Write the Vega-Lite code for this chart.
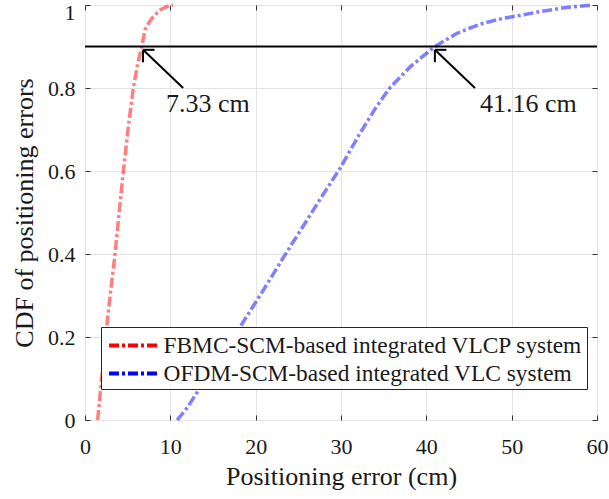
{
  "$schema": "https://vega.github.io/schema/vega-lite/v6.json",
  "width": 512,
  "height": 415,
  "autosize": {"type": "none"},
  "padding": {"left": 85, "top": 5, "right": 12, "bottom": 79},
  "background": "white",
  "config": {
    "font": "Liberation Serif",
    "view": {"stroke": "#333333", "strokeWidth": 1},
    "axis": {
      "labelFont": "Liberation Serif",
      "titleFont": "Liberation Serif",
      "labelFontSize": 22,
      "titleFontSize": 26,
      "labelColor": "#1a1a1a",
      "titleColor": "#1a1a1a",
      "titleFontWeight": "normal",
      "titleLimit": 1000,
      "labelFlush": false,
      "gridColor": "#e3e3e3",
      "gridWidth": 1,
      "domain": false,
      "tickColor": "#333333",
      "tickSize": -5
    }
  },
  "resolve": {"axis": {"x": "independent", "y": "independent"}},
  "datasets": {
    "curves": [
      {"series": "FBMC-SCM-based integrated VLCP system", "x": 1.48, "cdf": 0.0},
      {"series": "FBMC-SCM-based integrated VLCP system", "x": 2.0, "cdf": 0.11},
      {"series": "FBMC-SCM-based integrated VLCP system", "x": 2.54, "cdf": 0.225},
      {"series": "FBMC-SCM-based integrated VLCP system", "x": 3.0, "cdf": 0.31},
      {"series": "FBMC-SCM-based integrated VLCP system", "x": 3.52, "cdf": 0.4},
      {"series": "FBMC-SCM-based integrated VLCP system", "x": 4.0, "cdf": 0.5},
      {"series": "FBMC-SCM-based integrated VLCP system", "x": 4.5, "cdf": 0.6},
      {"series": "FBMC-SCM-based integrated VLCP system", "x": 5.1, "cdf": 0.71},
      {"series": "FBMC-SCM-based integrated VLCP system", "x": 5.66, "cdf": 0.8},
      {"series": "FBMC-SCM-based integrated VLCP system", "x": 6.15, "cdf": 0.855},
      {"series": "FBMC-SCM-based integrated VLCP system", "x": 6.64, "cdf": 0.9},
      {"series": "FBMC-SCM-based integrated VLCP system", "x": 7.03, "cdf": 0.94},
      {"series": "FBMC-SCM-based integrated VLCP system", "x": 7.5, "cdf": 0.958},
      {"series": "FBMC-SCM-based integrated VLCP system", "x": 8.0, "cdf": 0.972},
      {"series": "FBMC-SCM-based integrated VLCP system", "x": 8.8, "cdf": 0.988},
      {"series": "FBMC-SCM-based integrated VLCP system", "x": 9.57, "cdf": 0.996},
      {"series": "FBMC-SCM-based integrated VLCP system", "x": 10.3, "cdf": 1.0},
      {"series": "OFDM-SCM-based integrated VLC system", "x": 10.8, "cdf": 0.0},
      {"series": "OFDM-SCM-based integrated VLC system", "x": 12.0, "cdf": 0.03},
      {"series": "OFDM-SCM-based integrated VLC system", "x": 13.3, "cdf": 0.072},
      {"series": "OFDM-SCM-based integrated VLC system", "x": 15.0, "cdf": 0.125},
      {"series": "OFDM-SCM-based integrated VLC system", "x": 16.8, "cdf": 0.18},
      {"series": "OFDM-SCM-based integrated VLC system", "x": 18.5, "cdf": 0.235},
      {"series": "OFDM-SCM-based integrated VLC system", "x": 20.9, "cdf": 0.313},
      {"series": "OFDM-SCM-based integrated VLC system", "x": 23.2, "cdf": 0.39},
      {"series": "OFDM-SCM-based integrated VLC system", "x": 25.5, "cdf": 0.465},
      {"series": "OFDM-SCM-based integrated VLC system", "x": 27.8, "cdf": 0.54},
      {"series": "OFDM-SCM-based integrated VLC system", "x": 29.9, "cdf": 0.607},
      {"series": "OFDM-SCM-based integrated VLC system", "x": 32.2, "cdf": 0.69},
      {"series": "OFDM-SCM-based integrated VLC system", "x": 34.0, "cdf": 0.75},
      {"series": "OFDM-SCM-based integrated VLC system", "x": 35.7, "cdf": 0.8},
      {"series": "OFDM-SCM-based integrated VLC system", "x": 38.1, "cdf": 0.851},
      {"series": "OFDM-SCM-based integrated VLC system", "x": 41.0, "cdf": 0.9},
      {"series": "OFDM-SCM-based integrated VLC system", "x": 43.6, "cdf": 0.932},
      {"series": "OFDM-SCM-based integrated VLC system", "x": 46.3, "cdf": 0.954},
      {"series": "OFDM-SCM-based integrated VLC system", "x": 49.0, "cdf": 0.968},
      {"series": "OFDM-SCM-based integrated VLC system", "x": 51.3, "cdf": 0.976},
      {"series": "OFDM-SCM-based integrated VLC system", "x": 53.3, "cdf": 0.984},
      {"series": "OFDM-SCM-based integrated VLC system", "x": 56.0, "cdf": 0.993},
      {"series": "OFDM-SCM-based integrated VLC system", "x": 59.4, "cdf": 1.0}
    ],
    "arrows": [
      {"x": 11.5, "y": 0.8, "x2": 6.8, "y2": 0.892},
      {"x": 6.8, "y": 0.892, "x2": 6.8, "y2": 0.862},
      {"x": 6.8, "y": 0.892, "x2": 8.15, "y2": 0.892},
      {"x": 45.7, "y": 0.8, "x2": 41.0, "y2": 0.892},
      {"x": 41.0, "y": 0.892, "x2": 41.0, "y2": 0.862},
      {"x": 41.0, "y": 0.892, "x2": 42.35, "y2": 0.892}
    ],
    "labels": [
      {"x": 9.49, "y": 0.742, "text": "7.33 cm"},
      {"x": 46.29, "y": 0.742, "text": "41.16 cm"}
    ],
    "threshold": [{"y": 0.9}]
  },
  "layer": [
    {
      "data": {"name": "curves"},
      "mark": {"type": "line", "strokeWidth": 3.5, "opacity": 0.5, "strokeDash": [10, 3, 3, 3]},
      "encoding": {
        "x": {
          "field": "x", "type": "quantitative",
          "scale": {"domain": [0, 60], "nice": false, "zero": false},
          "axis": {"orient": "bottom", "title": "Positioning error (cm)", "values": [0, 10, 20, 30, 40, 50, 60], "labelPadding": 21, "titlePadding": 6, "grid": true}
        },
        "y": {
          "field": "cdf", "type": "quantitative",
          "scale": {"domain": [0, 1], "nice": false},
          "axis": {"orient": "left", "title": "CDF of positioning errors", "values": [0, 0.2, 0.4, 0.6, 0.8, 1], "labelPadding": 15, "titlePadding": 10, "grid": true,
                   "labelOffset": {"condition": {"test": "datum.value == 1", "value": 7}, "value": 0},
                   "labelExpr": "datum.value == 0 ? '0' : datum.value == 1 ? '1' : format(datum.value, '.1f')"}
        },
        "color": {
          "field": "series", "type": "nominal",
          "scale": {"domain": ["FBMC-SCM-based integrated VLCP system", "OFDM-SCM-based integrated VLC system"], "range": ["#ff0000", "#0000ff"]},
          "legend": {
            "title": null, "orient": "none", "legendX": 16, "legendY": 322,
            "strokeColor": "#262626", "fillColor": "white", "padding": 4,
            "labelFont": "Liberation Serif", "labelFontSize": 23.4, "labelColor": "#1a1a1a", "labelOffset": 15, "labelLimit": 0,
            "symbolType": "M-2,0H2", "symbolSize": 625, "symbolOffset": 14.5, "symbolStrokeWidth": 4, "symbolDash": [10, 3, 3, 3], "symbolOpacity": 1,
            "symbolFillColor": "transparent",
            "rowPadding": 2, "cornerRadius": 0
          }
        },
        "order": {"field": "cdf", "type": "quantitative"}
      }
    },
    {
      "data": {"name": "curves"},
      "mark": {"type": "point", "opacity": 0},
      "encoding": {
        "x": {"field": "x", "type": "quantitative",
              "axis": {"orient": "top", "title": null, "labels": false, "grid": false, "values": [0, 10, 20, 30, 40, 50, 60]}},
        "y": {"field": "cdf", "type": "quantitative",
              "axis": {"orient": "right", "title": null, "labels": false, "grid": false, "values": [0, 0.2, 0.4, 0.6, 0.8, 1]}}
      }
    },
    {
      "data": {"name": "threshold"},
      "mark": {"type": "rule", "color": "black", "strokeWidth": 2},
      "encoding": {"y": {"field": "y", "type": "quantitative", "axis": null}}
    },
    {
      "data": {"name": "arrows"},
      "mark": {"type": "rule", "color": "black", "strokeWidth": 2},
      "encoding": {
        "x": {"field": "x", "type": "quantitative", "axis": null},
        "y": {"field": "y", "type": "quantitative", "axis": null},
        "x2": {"field": "x2"},
        "y2": {"field": "y2"}
      }
    },
    {
      "data": {"name": "labels"},
      "mark": {"type": "text", "font": "Liberation Serif", "fontSize": 26, "align": "left", "baseline": "alphabetic", "color": "#1a1a1a"},
      "encoding": {
        "x": {"field": "x", "type": "quantitative", "axis": null},
        "y": {"field": "y", "type": "quantitative", "axis": null},
        "text": {"field": "text"}
      }
    }
  ]
}
